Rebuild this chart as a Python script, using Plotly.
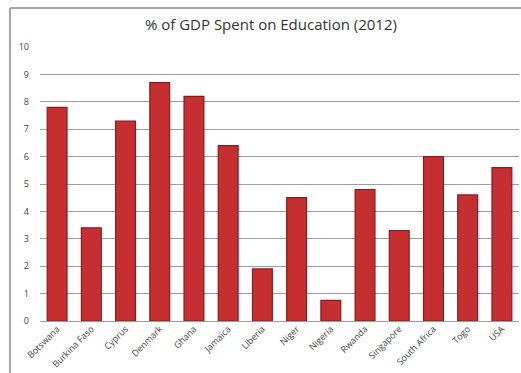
import plotly.graph_objects as go

countries = ["Botswana", "Burkina Faso", "Cyprus", "Denmark", "Ghana", "Jamaica", "Liberia",
             "Niger", "Nigeria", "Rwanda", "Singapore", "South Africa", "Togo", "USA"]
gdp_pct = [7.8, 3.4, 7.3, 8.7, 8.2, 6.4, 1.9, 4.5, 0.75, 4.8, 3.3, 6.0, 4.6, 5.6]
y_ticks = [0, 1, 2, 3, 4, 5, 6, 7, 8, 9, 10]

fig = go.Figure(go.Bar(
    x=countries, y=gdp_pct,
    marker=dict(color="#c62f32", line=dict(color="#8a1b1d", width=1.2)),
    width=0.58,
))

fig.update_layout(
    width=521, height=373,
    paper_bgcolor="white", plot_bgcolor="white",
    margin=dict(l=40, r=2, t=47, b=52),
    title=dict(text="% of GDP Spent on Education (2012)", x=0.52, xanchor="center",
               y=1 - 25/373, yanchor="middle",
               font=dict(family="Open Sans", size=15, color="#333333")),
    showlegend=False,
    bargap=0.42,
    font=dict(family="Open Sans"),
    shapes=[
        dict(type="line", xref="paper", yref="paper",
             x0=-30/479, x1=1.1, y0=1 + 39/274, y1=1 + 39/274,
             line=dict(color="#8a8a8a", width=1.5)),
        dict(type="line", xref="paper", yref="paper",
             x0=-30/479, x1=-30/479, y0=1 + 39/274, y1=-0.3,
             line=dict(color="#8a8a8a", width=1.5)),
    ],
)
fig.update_yaxes(range=[0, 10], tickvals=y_ticks, showgrid=True, gridcolor="#9e9e9e",
                 gridwidth=1.2, zeroline=True, zerolinecolor="#9e9e9e", zerolinewidth=1.2,
                 showline=False, ticks="", ticklabelstandoff=10,
                 tickfont=dict(size=9, color="#444444", family="Open Sans"))
fig.update_xaxes(tickangle=-45, showline=False, ticks="", showgrid=False,
                 tickfont=dict(size=9, color="#444444", family="Open Sans"))

fig.write_html("out.html")
